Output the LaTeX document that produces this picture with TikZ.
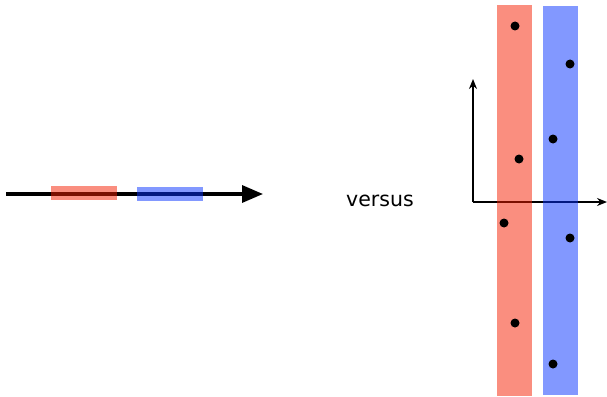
\documentclass[tikz,border=0pt]{standalone}
\usepackage{fontspec}
\newfontfamily\versusfont{DejaVu Sans}
\usetikzlibrary{arrows.meta}
\definecolor{barred}{RGB}{245,30,0}
\definecolor{barblue}{RGB}{5,49,255}
\tikzset{
  redbar/.style={fill=barred, fill opacity=0.5, draw=none},
  bluebar/.style={fill=barblue, fill opacity=0.5, draw=none},
  pt/.style={circle, fill=black, inner sep=0pt, minimum size=9pt},
  thickaxis/.style={line width=3.3pt, -{Triangle[length=21pt,width=17pt]}},
  thinaxis/.style={line width=1.8pt, -{Stealth[length=10pt,width=8pt]}}
}
\begin{document}
\begin{tikzpicture}[x=1pt,y=-1pt]
\useasboundingbox (0,0) rectangle (607,396);
% left
\coordinate (l0) at (6,194);
\coordinate (l1) at (263,194);
\draw[thickaxis] (l0) -- (l1);
\fill[redbar] (51,186) rectangle (117,200);
\fill[bluebar] (137,187) rectangle (203,201);
% text
\node[font=\versusfont\fontsize{20.5}{24}\selectfont, inner sep=0pt] (vs) at (380,201) {versus};
% right axes
\coordinate (o) at (473,202);
\coordinate (xa) at (607,202);
\coordinate (ya) at (473,79);
\draw[thinaxis] (o) -- (xa);
\draw[thinaxis] (o) -- (ya);
\fill[redbar] (497,5) rectangle (532,396);
\fill[bluebar] (543,6) rectangle (578,395);
% dots
\node[pt] (r1) at (515,26) {};
\node[pt] (r2) at (519,159) {};
\node[pt] (r3) at (504,223) {};
\node[pt] (r4) at (515,323) {};
\node[pt] (b1) at (570,64) {};
\node[pt] (b2) at (553,139) {};
\node[pt] (b3) at (570,238) {};
\node[pt] (b4) at (553,364) {};
\end{tikzpicture}
\end{document}
